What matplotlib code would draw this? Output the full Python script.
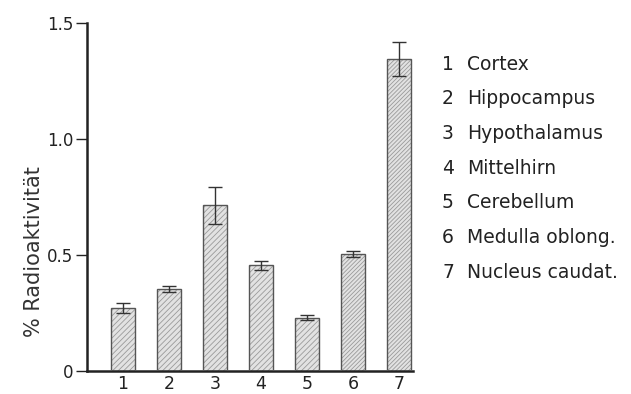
import numpy as np
import matplotlib as mpl
mpl.use('Agg')
import matplotlib.pyplot as plt

mpl.rcParams['font.family'] = ['DejaVu Sans']
mpl.rcParams['hatch.linewidth'] = 0.6

# Werte
regionen = ['1', '2', '3', '4', '5', '6', '7']
namen = ['Cortex', 'Hippocampus', 'Hypothalamus', 'Mittelhirn',
         'Cerebellum', 'Medulla oblong.', 'Nucleus caudat.']
werte = [0.27, 0.355, 0.715, 0.455, 0.23, 0.505, 1.345]
fehler = [0.022, 0.013, 0.08, 0.02, 0.01, 0.012, 0.072]
yticks = [0, 0.5, 1.0, 1.5]
ylabels = ['0', '0.5', '1.0', '1.5']

hatches = ['//////', '//////', '//////', '//////', '//////', '////////', '////////']

fig = plt.figure(figsize=(6.31, 3.94), dpi=100)
ax = fig.add_axes([87 / 631, 23 / 394, 326 / 631, 348 / 394])

x = np.arange(1, len(werte) + 1)
for i in range(len(werte)):
    ax.bar(x[i], werte[i], width=0.52, color='#e2e2e2', edgecolor='#9a9a9a',
           hatch=hatches[i], linewidth=0, zorder=2)
ax.bar(x, werte, width=0.52, facecolor='none', edgecolor='#555555',
       linewidth=1.0, zorder=3)
ax.errorbar(x, werte, yerr=fehler, fmt='none', ecolor='#333333',
            elinewidth=1.0, capsize=5, capthick=1.0, zorder=4)

ax.set_xlim(1 - 36 / 46, 1 + 290 / 46)
ax.set_ylim(0, 1.5)
ax.set_xticks(x)
ax.set_xticklabels(regionen)
ax.set_yticks(yticks)
ax.set_yticklabels(ylabels)

for s in ['top', 'right']:
    ax.spines[s].set_visible(False)
for s in ['left', 'bottom']:
    ax.spines[s].set_linewidth(1.8)
    ax.spines[s].set_color('#222222')

ax.tick_params(axis='x', length=0, pad=3, labelsize=12.5, colors='#222222')
ax.tick_params(axis='y', direction='out', length=8, width=1.0, pad=2,
               labelsize=12, colors='#222222')

ax.set_ylabel('% Radioaktivität', fontsize=15, color='#333333', va='center')
ax.yaxis.set_label_coords(-0.163, 0.342)

# Legende rechts
for i in range(len(namen)):
    yy = 1 - (64 + 34.7 * i) / 394
    fig.text(442 / 631, yy, regionen[i], fontsize=13.5, va='center',
             ha='left', color='#222222')
    fig.text(467 / 631, yy, namen[i], fontsize=13.5, va='center',
             ha='left', color='#222222')

fig.savefig('out.png', dpi=100)
